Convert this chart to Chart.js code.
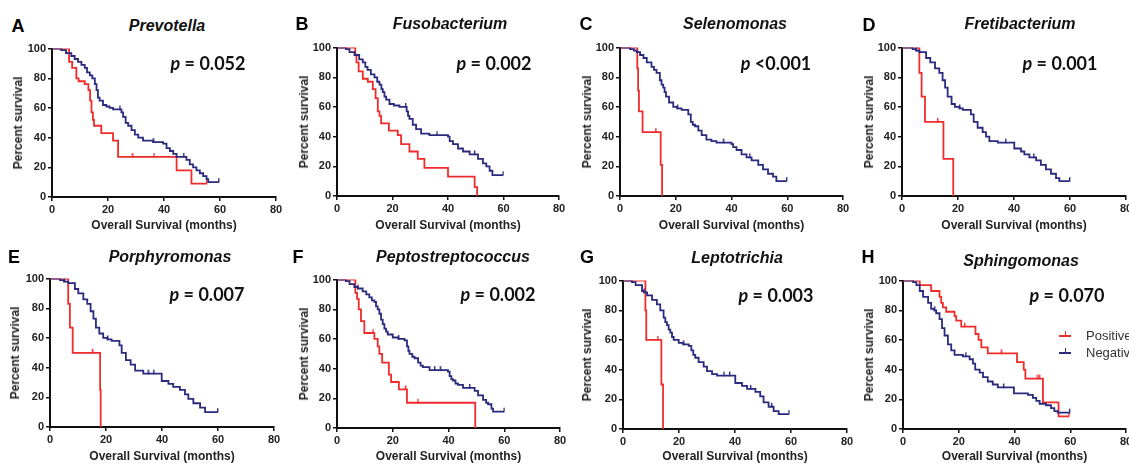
<!DOCTYPE html>
<html>
<head>
<meta charset="utf-8">
<script src="https://cdn.jsdelivr.net/npm/chart.js@4"></script>
<style>
  body { margin: 0; width: 1129px; height: 464px; overflow: hidden; background: #fff; position: relative;
         font-family: "Liberation Sans", Arial, sans-serif; color: #111; }
  .t { position: absolute; white-space: nowrap; line-height: 1; transform: translate(-50%, -50%); }
  .letter { font-size: 18px; font-weight: bold; color: #000; }
  .genus { font-size: 16px; font-weight: bold; font-style: italic; }
  .pval { font-family: Lato, "Liberation Sans", sans-serif; font-size: 18px; font-weight: bold; }
  .pval i { font-style: italic; }
  .axt { font-size: 12px; font-weight: bold; color: #222; }
  .box { position: absolute; }
  .leg { position: absolute; font-size: 13px; color: #333; line-height: 1; }
</style>
</head>
<body>
<script>
// axis ticks
const xTicks = [0, 20, 40, 60, 80]
const yTicks = [0, 20, 40, 60, 80, 100]

const genera = ['Prevotella', 'Fusobacterium', 'Selenomonas', 'Fretibacterium',
                'Porphyromonas', 'Peptostreptococcus', 'Leptotrichia', 'Sphingomonas']
const letters = ['A', 'B', 'C', 'D', 'E', 'F', 'G', 'H']
const pLabels = ['= 0.052', '= 0.002', '<0.001', '= 0.001', '= 0.007', '= 0.002', '= 0.003', '= 0.070']
const legendLabels = ['Positive', 'Negative']

// survival curves: [months, percent, censored?]
const prevotellaPos = [[0,100],[6.1,91],[7.2,87],[8.7,80],[9.5,78],[11.7,76],[13,72],[13.6,65],[14.1,57],[14.6,52],[15,48],[17.6,43],[21.8,38],[23.6,27],[28.6,27,1],[36.4,27,1],[44.5,18],[49.8,9],[55.2,9,1]]
const prevotellaNeg = [[0,100],[3.3,99],[5,97],[6.9,95],[8.1,93],[9.3,91],[10.5,89],[11.7,87],[12.5,84],[13.5,82],[14.4,80],[15.3,76],[15.9,72],[16.4,67],[17,65],[18.2,62],[19.4,61],[20.6,60],[21.8,59],[24.2,59,1],[24.8,57],[25.4,54],[26.3,50],[27.2,48],[28.4,45],[29.6,42],[30.8,40],[32.5,38],[36.1,37,1],[39.7,36],[40.9,33],[42.1,31],[43.3,29],[44.5,27],[47,27,1],[48,25],[49.2,22],[50.4,20],[51.6,18],[52.8,16],[54,14],[55.2,12],[55.8,10],[59.5,10,1]]

const fusoPos = [[0,100],[6.6,95],[7,90],[7.8,84],[9.3,79],[11.1,77],[12.9,72],[13.9,66],[14.7,57],[15.3,54],[15.9,49],[18.7,44],[21.9,41],[23.1,35],[26.1,30],[29.1,25],[31.5,19],[40,13],[49.6,6],[50.5,0]]
const fusoNeg = [[0,100],[3.2,99],[4.5,97],[6.3,95],[8,92],[9.3,90],[10.2,87],[11,85],[12.2,82],[13.5,80],[14.5,77],[15.3,75],[16,72],[16.5,70],[17.1,67],[17.7,65],[18.9,62],[20.5,61],[22.5,60],[24.7,60,1],[25.1,57],[25.6,54],[26.1,52],[27.3,48],[28.5,45],[30.3,42],[33.3,41],[36,41,1],[40,40],[40.6,37],[41.8,35],[43.6,32],[45.4,30],[47.8,28],[49.5,28,1],[50.8,25],[52.6,22],[53.8,20],[55,17],[56,14],[59.8,14,1]]

const selenoPos = [[0,100],[6.2,86],[6.5,71],[6.8,57],[8.1,43],[12.8,43,1],[14.6,21],[15.1,0]]
const selenoNeg = [[0,100],[3.6,99],[5,98],[6,97],[7.2,95],[8.4,93],[9.6,90],[11.3,87],[12.2,85],[13.1,83],[14.3,78],[14.9,75],[15.5,73],[16,70],[16.5,67],[17.6,63],[19.1,60],[20.5,59,1],[22.1,58],[24.5,55],[25.4,50],[26.1,48],[26.9,47],[28.1,44],[29.3,41],[31,38],[32.8,37],[34.6,36],[37,36,1],[40,35],[40.6,33],[41.8,31],[43.6,28],[45.4,26],[46.5,26,1],[47.2,24],[49.6,21],[51.3,18],[53.1,15],[54.9,13],[56.1,10],[59.7,10,1]]

const fretiPos = [[0,100],[6.2,83],[7,67],[8.2,50],[12.7,50,1],[14.8,25],[18.3,0]]
const fretiNeg = [[0,100],[3.8,99],[5,98,1],[6.2,97],[8.6,93],[10.1,90],[11.8,86],[13.3,83],[14.5,78],[15.4,73],[16.3,67],[17.7,62],[18.9,60],[20.5,59,1],[21.7,58],[24.6,55],[25.6,50],[27,46],[28.8,43],[30,40],[31.2,37],[34.2,36],[37,36,1],[40.1,32],[42.5,30],[43.7,28],[45.5,26],[47,26,1],[47.9,24],[49.6,21],[51.4,18],[53.2,15],[55,12],[56.2,10],[59.8,10,1]]

const porphyPos = [[0,100],[6.5,83],[7.1,67],[8.1,50],[15.1,50,1],[17.9,25],[18.1,0]]
const porphyNeg = [[0,100],[3.6,99],[5,98,1],[6.5,97],[8.9,93],[10.1,90],[11.9,86],[13.3,83],[14.5,78],[15.5,73],[16.4,67],[17.6,63],[19,60],[20.5,59,1],[22,58],[24.8,55],[25.6,50],[27.1,45],[28.8,42],[30.4,38],[33.3,36],[35,36,1],[37,36,1],[39.9,31],[42.3,29],[44,27],[46.4,25],[48.2,22],[49.4,19],[51.2,16],[53.6,13],[55.4,10],[59.8,10,1]]

const peptoPos = [[0,100],[6.6,91],[7.2,87],[7.8,80],[8.6,72],[9.8,64],[12.9,64,1],[13.4,60],[14.6,55],[15.2,50],[16.2,44],[18.6,36],[19.4,31],[22.2,26],[24.5,26,1],[25.1,17],[29,17,1],[49.6,0]]
const peptoNeg = [[0,100],[3.2,99],[4.5,97],[6.2,95],[7.5,94,1],[9.2,92],[10.5,90],[11.6,88],[12.5,86],[13.4,85],[14,82],[14.6,80],[15.2,77],[15.8,73],[16.4,70],[17,67],[17.6,65],[18.2,63],[20,61],[22,60,1],[24.2,59],[25.1,55],[25.6,52],[26,50],[27,48],[27.8,47],[29.1,44],[30,42],[30.8,41],[33.2,39],[35,39,1],[37,39,1],[39.8,38],[40.4,35],[41,33],[41.6,32],[42.5,30],[43.4,29],[45.2,27],[47.5,27,1],[49.4,25],[50.6,22],[52.4,19],[53.5,17],[54.2,16],[55.4,13],[56,11],[59.9,11,1]]

const leptoPos = [[0,100],[8,80],[8.3,60],[12.4,60,1],[13.7,30],[14.3,0]]
const leptoNeg = [[0,100],[3.2,99],[4.5,97],[6.8,93],[7.5,92,1],[8.6,90],[10.4,87],[12.1,84],[13.3,80],[14.5,75],[15.1,72],[15.7,70],[16.3,67],[16.9,65],[17.5,62],[18.1,60],[19.9,58],[21.5,57,1],[23.5,56],[24.4,53],[25.1,50],[25.8,48],[27,45],[28.8,42],[30,39],[31.8,37],[33.6,36],[36,36,1],[38,36,1],[40.1,31],[42.5,29],[44.3,27],[45.5,27,1],[47.3,25],[49,22],[50.2,18],[52,15],[53,15,1],[53.8,12],[55.6,10],[59.2,10,1]]

const sphingoPos = [[0,100],[6,97],[10.1,93],[13.1,89],[13.7,85],[14.3,82],[15.5,79],[18.5,76],[19.1,73],[20.9,69],[22.1,69,1],[26,64],[27.1,60],[28.1,55],[30.4,51],[35.2,51,1],[40.9,45],[43.3,40],[43.9,34],[48.1,34,1],[48.9,34,1],[50.2,18],[55.8,8.5],[59.5,8.5,1]]
const sphingoNeg = [[0,100],[3.6,99],[4.8,97],[6,93],[7.2,89],[9,85],[10.1,81],[11.2,80,1],[11.9,78],[13.1,74],[14,68],[14.9,63],[16.1,57],[17.3,53],[18.5,50],[21.5,49],[22.5,49,1],[23.9,47],[25.1,44],[25.9,40],[27.5,38],[28.7,35],[30.4,32],[32.2,30],[34,28],[36,28,1],[39.8,24],[44.8,23],[46.6,21],[47.8,19],[49,17],[51.3,16],[53.1,14],[54.3,12],[55.5,11],[59.7,11,1]]

const positives = [prevotellaPos, fusoPos, selenoPos, fretiPos, porphyPos, peptoPos, leptoPos, sphingoPos]
const negatives = [prevotellaNeg, fusoNeg, selenoNeg, fretiNeg, porphyNeg, peptoNeg, leptoNeg, sphingoNeg]

// layout (pixels): plot area [left, top, right, bottom] and label centres
const plots = [[52,48,276,197],[337,47,559,196],[620,47,843,196],[902,47,1126,196],
               [50,278,274,427],[337,279,560,428],[623,280,847,429],[903,280,1126,429]]
const letterAt = [[18,26],[302,24],[586,24],[869,25],[14,257],[298,257],[587,257],[868,257]]
const titleAt = [[167,26],[450,24],[735,24],[1020,24],[170,257],[453,257],[737,258],[1021,261]]
const pAt = [[208,63],[494,63],[776,63],[1060,63],[207,294],[498,294],[776,295],[1067,295]]
const yTitleX = [18,304,587,869,15,304,587,869]
const xTitleY = [225,225,225,225,456,456,456,456]

const RED = '#ef2b2b'
const BLUE = '#2b2a7e'
const FONT = '"Liberation Sans", Arial, sans-serif'

function tickImage (color) {
    const c = document.createElement('canvas')
    c.width = 3; c.height = 10
    const g = c.getContext('2d')
    g.fillStyle = color
    g.fillRect(1, 1, 1.4, 4.5)
    return c
}

function addText (html, x, y, cls, rotate) {
    const d = document.createElement('div')
    d.className = 't ' + cls
    d.innerHTML = html
    d.style.left = x + 'px'
    d.style.top = y + 'px'
    if (rotate) d.style.transform = 'translate(-50%, -50%) rotate(-90deg)'
    document.body.appendChild(d)
}

function makeDataset (pts, color) {
    return {
        data: pts.map(p => ({x: p[0], y: p[1]})),
        stepped: true,
        borderColor: color,
        borderWidth: 1.8,
        fill: false,
        pointStyle: tickImage(color),
        pointRadius: pts.map(p => p[2] ? 3 : 0),
        pointHoverRadius: 0,
    }
}

const axisStyle = {
    border: {display: true, color: '#111', width: 2},
    grid: {drawOnChartArea: false, drawTicks: true, tickLength: 4, color: '#111', lineWidth: 1.5},
    ticks: {color: '#222', padding: 2, font: {family: FONT, size: 11, weight: 'bold'}},
}

const YW = 40, PADT = 8, PADR = 10, XH = 24

plots.forEach((pl, i) => {
    const [L, T, R, B] = pl
    const wrap = document.createElement('div')
    wrap.className = 'box'
    wrap.style.left = (L - YW) + 'px'
    wrap.style.top = (T - PADT) + 'px'
    const cv = document.createElement('canvas')
    cv.width = R - L + YW + PADR
    cv.height = B - T + PADT + XH
    wrap.appendChild(cv)
    document.body.appendChild(wrap)

    new Chart(cv, {
        type: 'line',
        data: {datasets: [makeDataset(negatives[i], BLUE), makeDataset(positives[i], RED)]},
        options: {
            responsive: false,
            animation: false,
            events: [],
            layout: {padding: {top: PADT, right: PADR, left: 0, bottom: 0}},
            plugins: {legend: {display: false}, tooltip: {enabled: false}},
            scales: {
                x: {
                    type: 'linear', min: 0, max: 80, ...axisStyle,
                    afterBuildTicks: s => { s.ticks = xTicks.map(v => ({value: v})) },
                    afterFit: s => { s.height = XH },
                },
                y: {
                    type: 'linear', min: 0, max: 100, ...axisStyle,
                    afterBuildTicks: s => { s.ticks = yTicks.map(v => ({value: v})) },
                    afterFit: s => { s.width = YW },
                },
            },
        },
    })

    addText(letters[i], letterAt[i][0], letterAt[i][1], 'letter')
    addText(genera[i], titleAt[i][0], titleAt[i][1], 'genus')
    addText('<i>p</i> ' + pLabels[i], pAt[i][0], pAt[i][1], 'pval')
    addText('Percent survival', yTitleX[i], (T + B) / 2, 'axt', true)
    addText('Overall Survival (months)', (L + R) / 2, xTitleY[i], 'axt')
})

// legend for the last panel
const legendColors = [RED, BLUE]
legendLabels.forEach((name, k) => {
    const y = 335 + k * 17
    const line = document.createElement('div')
    line.className = 'box'
    line.style.cssText = `left:1059px;top:${y}px;width:12px;height:1.6px;background:${legendColors[k]}`
    document.body.appendChild(line)
    const tk = document.createElement('div')
    tk.className = 'box'
    tk.style.cssText = `left:1064.5px;top:${y - 4}px;width:1.4px;height:4px;background:${legendColors[k]}`
    document.body.appendChild(tk)
    const tx = document.createElement('div')
    tx.className = 'leg'
    tx.textContent = name
    tx.style.left = '1086px'
    tx.style.top = (y - 6) + 'px'
    document.body.appendChild(tx)
})
</script>
</body>
</html>
